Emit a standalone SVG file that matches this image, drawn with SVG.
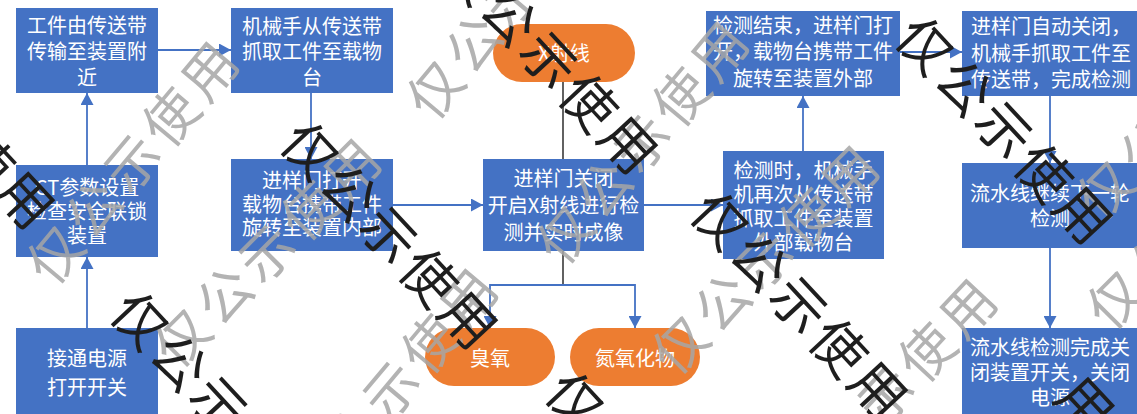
<svg xmlns="http://www.w3.org/2000/svg" width="1137" height="414" viewBox="0 0 1137 414">
<style>
.box{fill:#4472C4}
.pill{fill:#ED7D31}
.t{font-family:"Noto Sans CJK SC","Noto Sans",sans-serif;font-size:20px;fill:#ffffff;text-anchor:middle}
.c{fill:none;stroke:#4472C4;stroke-width:1.8}
.k{fill:none;stroke:#3a3a3a;stroke-width:1.6}
.wb{font-family:"Noto Sans CJK SC",sans-serif;font-size:54px;letter-spacing:4px;fill:#1e1e1e}
.wg{font-family:"Noto Sans CJK SC",sans-serif;font-size:54px;letter-spacing:6px;fill:#a6a6a6;fill-opacity:0.85}
</style>
<defs>
<marker id="ar" markerUnits="userSpaceOnUse" markerWidth="12" markerHeight="13" refX="12" refY="6.5" orient="auto">
<path d="M0,0 L12,6.5 L0,13 z" fill="#4472C4"/>
</marker>
</defs>
<rect width="1137" height="414" fill="#ffffff"/>

<g id="connectors">
<path class="c" d="M87,328 L87,257" marker-end="url(#ar)"/>
<path class="c" d="M87,165 L87,93" marker-end="url(#ar)"/>
<path class="c" d="M158,50 L231,50" marker-end="url(#ar)"/>
<path class="c" d="M311,93 L311,159" marker-end="url(#ar)"/>
<path class="c" d="M393,205 L483,205" marker-end="url(#ar)"/>
<path class="c" d="M644,205 L723,205" marker-end="url(#ar)"/>
<path class="c" d="M803,151 L803,96" marker-end="url(#ar)"/>
<path class="c" d="M900,52 L962,52" marker-end="url(#ar)"/>
<path class="c" d="M1050,96 L1050,163" marker-end="url(#ar)"/>
<path class="c" d="M1050,248 L1050,328" marker-end="url(#ar)"/>
<path class="k" d="M563,82 L563,159"/>
<path class="k" d="M563,251 L563,285"/>
<path class="c" d="M563,285 H490 V328" marker-end="url(#ar)"/>
<path class="c" d="M563,285 H635 V328" marker-end="url(#ar)"/>
</g>

<g id="nodeA"><rect class="box" x="16" y="8" width="142" height="85"/>
<text class="t" x="87" y="32.5">工件由传送带</text><text class="t" x="87" y="58.5">传输至装置附</text><text class="t" x="87" y="84.5">近</text></g>
<g id="nodeB"><rect class="box" x="231" y="8" width="162" height="85"/>
<text class="t" x="312" y="34">机械手从传送带</text><text class="t" x="312" y="58.5">抓取工件至载物</text><text class="t" x="312" y="84.5">台</text></g>
<g id="nodeX"><rect class="pill" x="493" y="24" width="142" height="58" rx="29"/>
<text class="t" x="564" y="60.5">X射线</text></g>
<g id="nodeC"><rect class="box" x="706" y="11" width="194" height="85"/>
<text class="t" x="803" y="32.5">检测结束，进样门打</text><text class="t" x="803" y="59">开，载物台携带工件</text><text class="t" x="803" y="85.5">旋转至装置外部</text></g>
<g id="nodeD"><rect class="box" x="962" y="11" width="175" height="85"/>
<text class="t" x="1051" y="34">进样门自动关闭，</text><text class="t" x="1051" y="60.5">机械手抓取工件至</text><text class="t" x="1051" y="87">传送带，完成检测</text></g>
<g id="nodeE"><rect class="box" x="16" y="165" width="142" height="92"/>
<text class="t" x="87" y="194.5">CT参数设置</text><text class="t" x="87" y="218.5">检查安全联锁</text><text class="t" x="87" y="242.5">装置</text></g>
<g id="nodeF"><rect class="box" x="231" y="159" width="162" height="92"/>
<text class="t" x="312" y="188">进样门打开</text><text class="t" x="312" y="211.5">载物台携带工件</text><text class="t" x="312" y="235">旋转至装置内部</text></g>
<g id="nodeG"><rect class="box" x="483" y="159" width="161" height="92"/>
<text class="t" x="563.5" y="185.5">进样门关闭</text><text class="t" x="563.5" y="212.5">开启X射线进行检</text><text class="t" x="563.5" y="239.5">测并实时成像</text></g>
<g id="nodeH"><rect class="box" x="723" y="151" width="161" height="108"/>
<text class="t" x="803.5" y="177.5">检测时，机械手</text><text class="t" x="803.5" y="201.5">机再次从传送带</text><text class="t" x="803.5" y="225.5">抓取工件至装置</text><text class="t" x="803.5" y="249.5">外部载物台</text></g>
<g id="nodeI"><rect class="box" x="962" y="163" width="175" height="85"/>
<text class="t" x="1050" y="200.5">流水线继续下一轮</text><text class="t" x="1050" y="225.5">检测</text></g>
<g id="nodeJ"><rect class="box" x="16" y="328" width="142" height="90"/>
<text class="t" x="87" y="365.5">接通电源</text><text class="t" x="87" y="394.5">打开开关</text></g>
<g id="nodeK"><rect class="box" x="962" y="328" width="175" height="90"/>
<text class="t" x="1050" y="354.5">流水线检测完成关</text><text class="t" x="1050" y="379.5">闭装置开关，关闭</text><text class="t" x="1050" y="404.5">电源</text></g>
<g id="nodeO3"><rect class="pill" x="425" y="328" width="130" height="58" rx="29"/>
<text class="t" x="490" y="365.5">臭氧</text></g>
<g id="nodeNOx"><rect class="pill" x="570" y="328" width="130" height="58" rx="29"/>
<text class="t" x="635" y="365.5">氮氧化物</text></g>

<g id="watermark-gray">
<text class="wg" transform="translate(55,255) rotate(-50)" x="-27" y="20">仅公示使用</text>
<text class="wg" transform="translate(182,338) rotate(-45)" x="-27" y="20">仅公示使用</text>
<text class="wg" transform="translate(314,482) rotate(-50)" x="-27" y="20">仅公示使用</text>
<text class="wg" transform="translate(435,90) rotate(-50)" x="-27" y="20">仅公示使用</text>
<text class="wg" transform="translate(565,235) rotate(-50)" x="-27" y="20">仅公示使用</text>
<text class="wg" transform="translate(680,345) rotate(-45)" x="-27" y="20">仅公示使用</text>
<text class="wg" transform="translate(804,484) rotate(-47)" x="-27" y="20">仅公示使用</text>
<text class="wg" transform="translate(1105,190) rotate(-45)" x="-27" y="20">仅公示使用</text>
<text class="wg" transform="translate(1115,300) rotate(-45)" x="-27" y="20">仅公示使用</text>
</g>
<g id="watermark-black">
<text class="wb" transform="translate(310,150) rotate(47)" x="-27" y="20">仅公示使用</text>
<text class="wb" transform="translate(140,320) rotate(47)" x="-27" y="20">仅公示使用</text>
<text class="wb" transform="translate(470,-25) rotate(47)" x="-27" y="20">仅公示使用</text>
<text class="wb" transform="translate(925,45) rotate(47)" x="-27" y="20">仅公示使用</text>
<text class="wb" transform="translate(720,220) rotate(47)" x="-27" y="20">仅公示使用</text>
<text class="wb" transform="translate(575,400) rotate(47)" x="-27" y="20">仅公示使用</text>
<text class="wb" transform="translate(-133,30) rotate(47)" x="-27" y="20">仅公示使用</text>
<text class="wb" transform="translate(1085,405) rotate(47)" x="-27" y="20">用</text>
</g>
</svg>
